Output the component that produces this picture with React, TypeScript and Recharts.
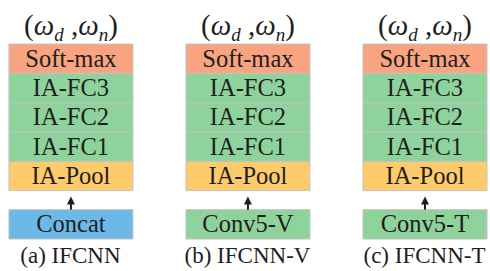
import React from 'react';
import { BarChart, Bar, XAxis, YAxis, LabelList, Cell } from 'recharts';

const captions = ['(a) IFCNN', '(b) IFCNN-V', '(c) IFCNN-T'];
const inputNames = ['Concat', 'Conv5-V', 'Conv5-T'];
const inputColors = ['#6cb8e6', '#8fd39c', '#8fd39c'];
const positions = [0, 1, 2];

// stacked segment heights, in layer units (bottom to top)
const inputHeight = [1, 1, 1];
const gapHeight = [0.65, 0.65, 0.65];
const layerHeight = [1, 1, 1];

const layers = [
  { key: 'pool', label: 'IA-Pool', fill: '#fdcb6b' },
  { key: 'fc1', label: 'IA-FC1', fill: '#8fd39c' },
  { key: 'fc2', label: 'IA-FC2', fill: '#8fd39c' },
  { key: 'fc3', label: 'IA-FC3', fill: '#8fd39c' },
  { key: 'softmax', label: 'Soft-max', fill: '#f9a480' },
];

const data = positions.map((pos, i) => ({
  pos,
  input: inputHeight[i],
  gap: gapHeight[i],
  pool: layerHeight[i],
  fc1: layerHeight[i],
  fc2: layerHeight[i],
  fc3: layerHeight[i],
  softmax: layerHeight[i],
  inputName: inputNames[i],
}));

const total = inputHeight[0] + gapHeight[0] + layerHeight[0] * layers.length;
const FONT = 'Liberation Serif';
const INK = '#1e1e1e';

const boxLabel = (text?: string) => (props: any) => {
  const { x, y, width, height, value } = props;
  return (
    <text
      x={x + width / 2}
      y={y + height / 2 + 8}
      textAnchor="middle"
      fontFamily={FONT}
      fontSize={24.5}
      fill={INK}
    >
      {text ?? value}
    </text>
  );
};

const titleLabel = (props: any) => {
  const { x, y, width } = props;
  return (
    <text x={x + width / 2} y={y - 9} textAnchor="middle" fontFamily={FONT} fontSize={29} fill={INK}>
      <tspan>(</tspan>
      <tspan fontStyle="italic">ω</tspan>
      <tspan fontStyle="italic" fontSize={19} dy={6}>d</tspan>
      <tspan dy={-6}> ,</tspan>
      <tspan fontStyle="italic">ω</tspan>
      <tspan fontStyle="italic" fontSize={19} dy={6}>n</tspan>
      <tspan dy={-6}>)</tspan>
    </text>
  );
};

const Arrow = (props: any) => {
  const { x, y, width, height } = props;
  const cx = x + width / 2;
  const tip = y + 6;
  const bottom = y + height;
  return (
    <g>
      <line x1={cx} y1={tip + 6} x2={cx} y2={bottom} stroke={INK} strokeWidth={2} />
      <path d={`M${cx},${tip} L${cx - 4},${tip + 8} L${cx + 4},${tip + 8} Z`} fill={INK} />
    </g>
  );
};

const CaptionTick = (props: any) => {
  const { x, y, payload } = props;
  return (
    <text x={x} y={y + 24} textAnchor="middle" fontFamily={FONT} fontSize={23} fill={INK}>
      {captions[payload.value]}
    </text>
  );
};

export default function App() {
  return (
    <div style={{ position: 'absolute', left: 0, top: 0, background: '#fff', fontFamily: FONT }}>
      <BarChart
        width={490}
        height={271}
        data={data}
        margin={{ top: 44, right: 0, bottom: 0, left: 0 }}
        style={{ fontFamily: FONT }}
      >
        <XAxis
          type="number"
          dataKey="pos"
          domain={[-0.398, 2.37]}
          ticks={positions}
          allowDataOverflow
          axisLine={false}
          tickLine={false}
          tickSize={0}
          tickMargin={0}
          height={32}
          interval={0}
          tick={<CaptionTick />}
        />
        <YAxis hide domain={[0, total]} />
        <Bar dataKey="input" stackId="s" barSize={124} stroke="#c2c2c2" isAnimationActive={false}>
          {data.map((_, i) => (
            <Cell key={i} fill={inputColors[i]} />
          ))}
          <LabelList dataKey="inputName" content={boxLabel()} />
        </Bar>
        <Bar dataKey="gap" stackId="s" barSize={124} fill="none" shape={<Arrow />} isAnimationActive={false} />
        {layers.map((l) => (
          <Bar
            key={l.key}
            dataKey={l.key}
            stackId="s"
            barSize={124}
            fill={l.fill}
            stroke="#c2c2c2"
            isAnimationActive={false}
          >
            <LabelList dataKey={l.key} content={boxLabel(l.label)} />
            {l.key === 'softmax' && <LabelList dataKey={l.key} content={titleLabel} />}
          </Bar>
        ))}
      </BarChart>
    </div>
  );
}
